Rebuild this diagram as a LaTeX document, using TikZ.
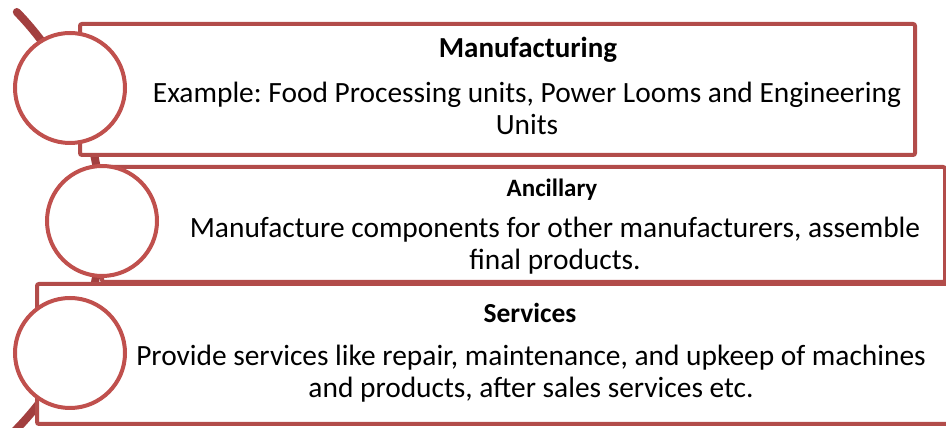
\documentclass[tikz,border=0pt]{standalone}
\usepackage{fontspec}
\setmainfont{Carlito}
\frenchspacing
\definecolor{boxred}{HTML}{B24C4A}
\definecolor{circred}{HTML}{C0504D}
\definecolor{arcred}{HTML}{A23F3F}
\begin{document}
\begin{tikzpicture}[x=1pt,y=1pt,
  itembox/.style={draw=boxred,line width=4pt,fill=white,rounded corners=2pt,inner sep=0pt},
  bullet/.style={circle,draw=circred,line width=4pt,fill=white,minimum size=110pt,inner sep=0pt},
  head/.style={anchor=base,inner sep=0pt,font=\fontsize{25}{30}\selectfont\bfseries},
  body/.style={anchor=base,inner sep=0pt,font=\fontsize{29.4}{32}\selectfont}]
\useasboundingbox (0,0) rectangle (946,428);
\clip (0,0) rectangle (946,428);
\coordinate (arcstart) at (16.8,416);
\draw[arcred,line width=8pt,line cap=round] (arcstart) arc[start angle=44.2,end angle=-50,radius=299];
% boxes
\node[itembox,minimum width=843pt,minimum height=115pt,anchor=north west] (b2) at (100,263) {};
\node[itembox,minimum width=915pt,minimum height=140pt,anchor=north west] (b3) at (35,146) {};
\node[itembox,minimum width=835pt,minimum height=131pt,anchor=north west] (b1) at (78,406) {};
% circles
\node[bullet] (c1) at (70,340) {};
\node[bullet] (c2) at (102,207) {};
\node[bullet] (c3) at (70,75) {};
% texts
\node[head,font=\fontsize{29}{32}\selectfont\bfseries] (h1) at (528,370) {Manufacturing};
\node[body] (t1a) at (527,325) {Example: Food Processing units, Power Looms and Engineering};
\node[body] (t1b) at (527,293) {Units};
\node[head] (h2) at (552,231) {Ancillary};
\node[body] (t2a) at (555,190) {Manufacture components for other manufacturers, assemble};
\node[body] (t2b) at (555,158) {final products.};
\node[head,font=\fontsize{27.5}{32}\selectfont\bfseries] (h3) at (530,105) {Services};
\node[body] (t3a) at (531,62) {Provide services like repair, maintenance, and upkeep of machines};
\node[body] (t3b) at (531,30) {and products, after sales services etc.};
\end{tikzpicture}
\end{document}
